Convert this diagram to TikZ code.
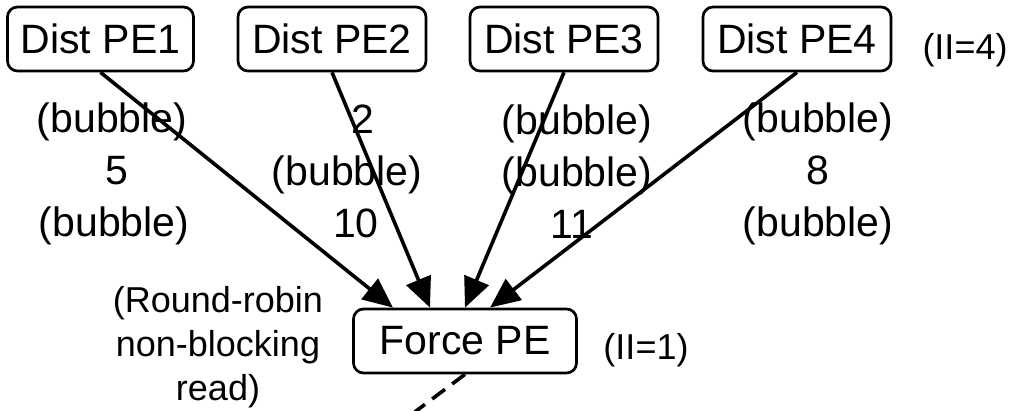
\documentclass[tikz,border=0pt]{standalone}
\usepackage{fontspec}
\setmainfont{Liberation Sans}
\usetikzlibrary{arrows.meta}

\begin{document}
\begin{tikzpicture}[x=1pt,y=-1pt,
  pebox/.style={draw, line width=2.7pt, rounded corners=10pt, inner sep=0pt,
    minimum height=64pt, font=\fontsize{41}{52}\selectfont},
  lbl/.style={align=center, inner sep=0pt, font=\fontsize{41}{52}\selectfont},
  note/.style={align=center, inner sep=0pt, font=\fontsize{36}{44}\selectfont},
  feed/.style={line width=3.6pt, -{Triangle[length=30pt,width=26pt]}},
  outflow/.style={line width=3.6pt, dash pattern=on 16pt off 9pt}]

\clip (0,0) rectangle (1019,411);

% distance processing elements
\node[pebox, minimum width=186pt] (d1) at (100.5,39) {Dist PE1};
\node[pebox, minimum width=188pt] (d2) at (332,39) {Dist PE2};
\node[pebox, minimum width=188pt] (d3) at (564,39) {Dist PE3};
\node[pebox, minimum width=188pt] (d4) at (797,39) {Dist PE4};
\node[note] (ii4) at (965,50) {(II=4)};

% force processing element
\node[pebox, minimum width=223pt] (force) at (465,341) {Force PE};
\node[note] (ii1) at (646,350) {(II=1)};
\node[note] (rr) at (218,347) {(Round-robin\\non-blocking\\read)};

% per-stream slot schedules
\node[lbl] (s1) at (112,174) {(bubble)\\\hspace*{10pt}5\\\hspace*{4pt}(bubble)};
\node[lbl] (s2) at (347,171) {\hspace*{32pt}2\\(bubble)\\\hspace*{18pt}10};
\node[lbl] (s3) at (577,172) {(bubble)\\(bubble)\\11\hspace*{10pt}};
\node[lbl] (s4) at (818,174) {(bubble)\\8\hspace*{8pt}\\(bubble)};

% streams into the force PE
\draw[feed] (d1.south) -- ([xshift=-72pt]force.north);
\draw[feed] (d2.south) -- ([xshift=-35pt]force.north);
\draw[feed] (d3.south) -- (force.north);
\draw[feed] (d4.south) -- ([xshift=25pt]force.north);

% output stream
\coordinate (sink) at (397.5,425);
\draw[outflow] (force.south) -- (sink);
\end{tikzpicture}
\end{document}
